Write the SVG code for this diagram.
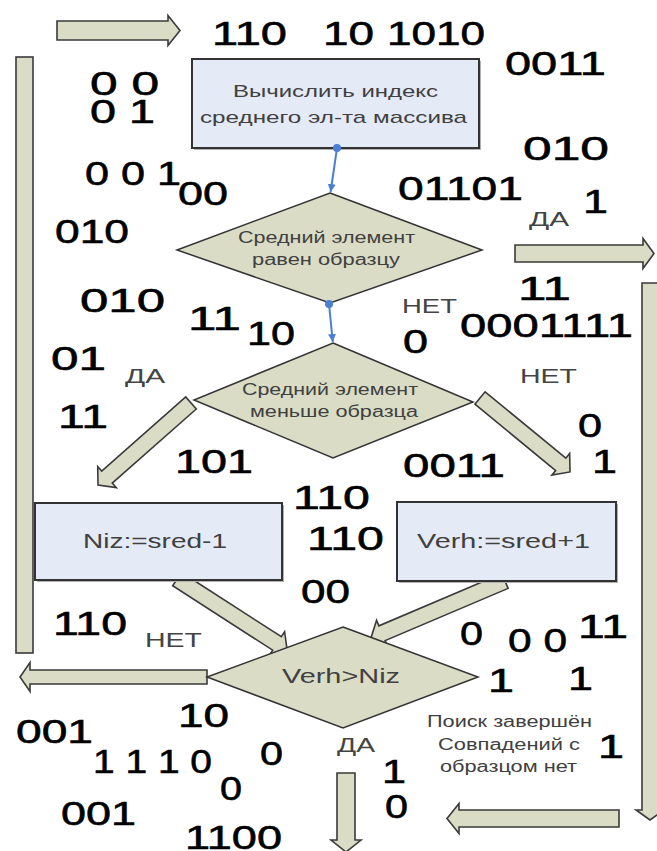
<svg xmlns="http://www.w3.org/2000/svg" width="657" height="851" viewBox="0 0 657 851">
<defs>
<style>
.box{fill:#e4eaf6;stroke:#333;stroke-width:2}
.shd{fill:#b0b0b0}
.dia{fill:#dadcc6;stroke:#333;stroke-width:1.5}
.blk{fill:#dadcc6;stroke:#3a3a3a;stroke-width:1.6;stroke-linejoin:miter}
.blue{stroke:#4a7fd4;stroke-width:2;fill:none}
.d{font-family:"Liberation Sans",Arial,sans-serif;font-size:34px;fill:#000;stroke:#000;stroke-width:0.6}
.l{font-family:"Liberation Sans",Arial,sans-serif;font-size:21px;fill:#444}
.t{font-family:"Liberation Sans",Arial,sans-serif;font-size:17px;fill:#404040;text-anchor:middle}
.s{font-family:"Liberation Sans",Arial,sans-serif;font-size:16px;fill:#404040;text-anchor:middle}
.m{font-family:"Liberation Sans",Arial,sans-serif;font-size:21px;fill:#404040;text-anchor:middle}
</style>
<marker id="ah" markerWidth="10" markerHeight="10" refX="8" refY="4" orient="auto" markerUnits="userSpaceOnUse">
<path d="M0,0 L8,4 L0,8 Z" fill="#4a7fd4"/>
</marker>
</defs>
<rect width="657" height="851" fill="#fff"/>

<g id="connectors">
<rect class="blk" x="16" y="57" width="17" height="596"/>
<polygon class="blk" transform="translate(57,30.5)" points="0,-9.5 111,-9.5 111,-15 123,0 111,15 111,9.5 0,9.5"/>
<polygon class="blk" transform="translate(515,253.5)" points="0,-8.5 128,-8.5 128,-15 139,0 128,15 128,8.5 0,8.5"/>
<polygon class="blk" transform="translate(650,283) rotate(90)" points="0,-8 527,-8 527,-14 537,0 527,14 527,8 0,8"/>
<polygon class="blk" transform="translate(619,818.5) rotate(180)" points="0,-8.5 160,-8.5 160,-15 172,0 160,15 160,8.5 0,8.5"/>
<polygon class="blk" transform="translate(346,773) rotate(90)" points="0,-9 67,-9 67,-15 79,0 67,15 67,9 0,9"/>
<polygon class="blk" transform="translate(207,677) rotate(180)" points="0,-7 177,-7 177,-14.5 187,0 177,14.5 177,7 0,7"/>
<polygon class="blk" transform="translate(191,403) rotate(138.6)" points="0,-8 112,-8 112,-14 124,0 112,14 112,8 0,8"/>
<polygon class="blk" transform="translate(480,398) rotate(39.4)" points="0,-8 104.5,-8 104.5,-14 116.5,0 104.5,14 104.5,8 0,8"/>
<polygon class="blk" transform="translate(177,579) rotate(32.8)" points="0,-8 119,-8 119,-14 131,0 119,14 119,8 0,8"/>
<polygon class="blk" transform="translate(505,581) rotate(157)" points="0,-8 133.6,-8 133.6,-14 145.6,0 133.6,14 133.6,8 0,8"/>
</g>

<g id="n_calc">
<rect class="shd" x="194" y="61" width="287" height="89"/>
<rect class="box" x="192" y="59" width="287" height="89"/>
<text class="t" x="335.5" y="97" textLength="205" lengthAdjust="spacingAndGlyphs">Вычислить индекс</text>
<text class="t" x="333.5" y="123" textLength="267" lengthAdjust="spacingAndGlyphs">среднего эл-та массива</text>
</g>

<g id="n_equal">
<polygon class="dia" points="330,193 482,250 330,303 177,250"/>
<text class="s" x="326.5" y="243" textLength="177" lengthAdjust="spacingAndGlyphs">Средний элемент</text>
<text class="s" x="326" y="265" textLength="148" lengthAdjust="spacingAndGlyphs">равен образцу</text>
</g>

<g id="n_less">
<polygon class="dia" points="333,343 473,402 333,458 194,400"/>
<text class="s" x="330" y="395" textLength="176" lengthAdjust="spacingAndGlyphs">Средний элемент</text>
<text class="s" x="334" y="417" textLength="168" lengthAdjust="spacingAndGlyphs">меньше образца</text>
</g>

<g id="n_niz">
<rect class="shd" x="37" y="505" width="247" height="77"/>
<rect class="box" x="35" y="503" width="247" height="77"/>
<text class="m" x="155" y="548" font-size="20" textLength="144" lengthAdjust="spacingAndGlyphs">Niz:=sred-1</text>
</g>

<g id="n_verh">
<rect class="shd" x="399" y="504" width="219" height="79"/>
<rect class="box" x="397" y="502" width="219" height="79"/>
<text class="m" x="503.5" y="548" textLength="173" lengthAdjust="spacingAndGlyphs">Verh:=sred+1</text>
</g>

<g id="n_cmp">
<polygon class="dia" points="343,627 478,677 343,728 207,677"/>
<text class="m" x="341" y="683" font-size="22" textLength="118" lengthAdjust="spacingAndGlyphs">Verh&gt;Niz</text>
</g>

<g id="n_note">
<text class="s" x="509.5" y="727" textLength="165" lengthAdjust="spacingAndGlyphs">Поиск завершён</text>
<text class="s" x="509" y="750" textLength="142" lengthAdjust="spacingAndGlyphs">Совпадений с</text>
<text class="s" x="508.5" y="772" textLength="137" lengthAdjust="spacingAndGlyphs">образцом нет</text>
</g>

<g id="flow-links">
<path class="blue" d="M337,148 L330.6,192" marker-end="url(#ah)"/>
<circle cx="337" cy="148" r="4" fill="#4a7fd4"/>
<path class="blue" d="M329,304 L332.8,342" marker-end="url(#ah)"/>
<circle cx="329" cy="304" r="4" fill="#4a7fd4"/>
</g>

<g id="labels">
<text class="l" x="529" y="226" textLength="40" lengthAdjust="spacingAndGlyphs">ДА</text>
<text class="l" x="402" y="313" textLength="55" lengthAdjust="spacingAndGlyphs">НЕТ</text>
<text class="l" x="125" y="383" textLength="40" lengthAdjust="spacingAndGlyphs">ДА</text>
<text class="l" x="520" y="383" textLength="57" lengthAdjust="spacingAndGlyphs">НЕТ</text>
<text class="l" x="145" y="647" textLength="57" lengthAdjust="spacingAndGlyphs">НЕТ</text>
<text class="l" x="337" y="752" textLength="38" lengthAdjust="spacingAndGlyphs">ДА</text>
</g>

<g id="digits">
<text class="d" x="212" y="45" textLength="75" lengthAdjust="spacingAndGlyphs">110</text>
<text class="d" x="323" y="45" textLength="51" lengthAdjust="spacingAndGlyphs">10</text>
<text class="d" x="387" y="45" textLength="98" lengthAdjust="spacingAndGlyphs">1010</text>
<text class="d" x="505" y="75" textLength="101" lengthAdjust="spacingAndGlyphs">0011</text>
<text class="d" x="90" y="95" textLength="69" lengthAdjust="spacingAndGlyphs">0 0</text>
<text class="d" x="90" y="123" textLength="65" lengthAdjust="spacingAndGlyphs">0 1</text>
<text class="d" x="85" y="185" textLength="96" lengthAdjust="spacingAndGlyphs">0 0 1</text>
<text class="d" x="178" y="205" textLength="50" lengthAdjust="spacingAndGlyphs">00</text>
<text class="d" x="398" y="200" textLength="125" lengthAdjust="spacingAndGlyphs">01101</text>
<text class="d" x="523" y="160" textLength="86" lengthAdjust="spacingAndGlyphs">010</text>
<text class="d" x="583" y="213" textLength="25" lengthAdjust="spacingAndGlyphs">1</text>
<text class="d" x="55" y="243" textLength="74" lengthAdjust="spacingAndGlyphs">010</text>
<text class="d" x="80" y="312" textLength="85" lengthAdjust="spacingAndGlyphs">010</text>
<text class="d" x="188" y="330" textLength="53" lengthAdjust="spacingAndGlyphs">11</text>
<text class="d" x="247" y="345" textLength="48" lengthAdjust="spacingAndGlyphs">10</text>
<text class="d" x="403" y="353" textLength="25" lengthAdjust="spacingAndGlyphs">0</text>
<text class="d" x="518" y="300" textLength="53" lengthAdjust="spacingAndGlyphs">11</text>
<text class="d" x="460" y="337" textLength="173" lengthAdjust="spacingAndGlyphs">0001111</text>
<text class="d" x="51" y="370" textLength="55" lengthAdjust="spacingAndGlyphs">01</text>
<text class="d" x="58" y="428" textLength="50" lengthAdjust="spacingAndGlyphs">11</text>
<text class="d" x="578" y="437" textLength="24" lengthAdjust="spacingAndGlyphs">0</text>
<text class="d" x="175" y="473" textLength="78" lengthAdjust="spacingAndGlyphs">101</text>
<text class="d" x="403" y="477" textLength="102" lengthAdjust="spacingAndGlyphs">0011</text>
<text class="d" x="592" y="473" textLength="25" lengthAdjust="spacingAndGlyphs">1</text>
<text class="d" x="293" y="509" textLength="77" lengthAdjust="spacingAndGlyphs">110</text>
<text class="d" x="307" y="550" textLength="77" lengthAdjust="spacingAndGlyphs">110</text>
<text class="d" x="301" y="603" textLength="49" lengthAdjust="spacingAndGlyphs">00</text>
<text class="d" x="53" y="635" textLength="74" lengthAdjust="spacingAndGlyphs">110</text>
<text class="d" x="460" y="645" textLength="23" lengthAdjust="spacingAndGlyphs">0</text>
<text class="d" x="508" y="652" textLength="59" lengthAdjust="spacingAndGlyphs">0 0</text>
<text class="d" x="578" y="638" textLength="50" lengthAdjust="spacingAndGlyphs">11</text>
<text class="d" x="488" y="692" textLength="26" lengthAdjust="spacingAndGlyphs">1</text>
<text class="d" x="568" y="690" textLength="25" lengthAdjust="spacingAndGlyphs">1</text>
<text class="d" x="178" y="727" textLength="51" lengthAdjust="spacingAndGlyphs">10</text>
<text class="d" x="16" y="743" textLength="77" lengthAdjust="spacingAndGlyphs">001</text>
<text class="d" x="93" y="773" textLength="119" lengthAdjust="spacingAndGlyphs">1 1 1 0</text>
<text class="d" x="260" y="765" textLength="23" lengthAdjust="spacingAndGlyphs">0</text>
<text class="d" x="220" y="800" textLength="22" lengthAdjust="spacingAndGlyphs">0</text>
<text class="d" x="61" y="825" textLength="75" lengthAdjust="spacingAndGlyphs">001</text>
<text class="d" x="185" y="849" textLength="97" lengthAdjust="spacingAndGlyphs">1100</text>
<text class="d" x="382" y="783" textLength="24" lengthAdjust="spacingAndGlyphs">1</text>
<text class="d" x="385" y="818" textLength="23" lengthAdjust="spacingAndGlyphs">0</text>
<text class="d" x="598" y="758" textLength="26" lengthAdjust="spacingAndGlyphs">1</text>
</g>
</svg>
